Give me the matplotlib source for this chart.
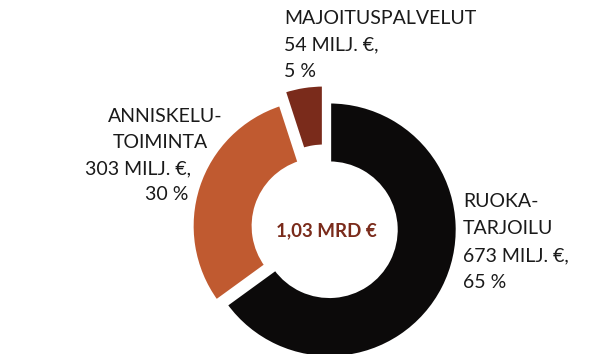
import matplotlib.pyplot as plt

osuudet = [65, 30, 5]
nimet = ["RUOKATARJOILU", "ANNISKELUTOIMINTA", "MAJOITUSPALVELUT"]
varit = ["#0c0a0a", "#c05a30", "#7a2b1b"]
erotus = [0.03, 0.05, 0.12]
keskiteksti = "1,03 MRD €"

W, H = 600, 354
plt.rcParams['font.family'] = ['Lato', 'DejaVu Sans']

fig = plt.figure(figsize=(W / 100, H / 100), dpi=100)

# akselit pikseleinä: keskipiste (326, 228), säde 128
cx, cy, r = 326, 228, 128
ax = fig.add_axes([(cx - r) / W, (H - cy - r) / H, 2 * r / W, 2 * r / H])
wedges, _ = ax.pie(osuudet, colors=varit, startangle=90, counterclock=False,
                   explode=erotus, radius=1.0,
                   wedgeprops=dict(width=0.48, edgecolor='white', linewidth=2.5))
for w in wedges:
    w.set_clip_on(False)
ax.set_xlim(-1, 1)
ax.set_ylim(-1, 1)
ax.axis('off')

ax.text(0, -0.02, keskiteksti, ha='center', va='center', fontsize=13.5,
        fontweight='bold', color="#7a2b1b")


def teksti(x, y, s, ha='left'):
    fig.text(x / W, 1 - y / H, s, ha=ha, va='baseline', fontsize=14,
             color='#1a1a1a', fontweight='normal')


teksti(284, 24, "MAJOITUSPALVELUT")
teksti(284, 50, "54 MILJ. €,")
teksti(284, 77, "5 %")

teksti(223, 122, "ANNISKELU-", ha='right')
teksti(208, 148, "TOIMINTA", ha='right')
teksti(191, 174, "303 MILJ. €,", ha='right')
teksti(188, 200, "30 %", ha='right')

teksti(463, 207, "RUOKA-")
teksti(463, 234, "TARJOILU")
teksti(463, 261, "673 MILJ. €,")
teksti(463, 288, "65 %")

fig.savefig("out.png", dpi=100)
